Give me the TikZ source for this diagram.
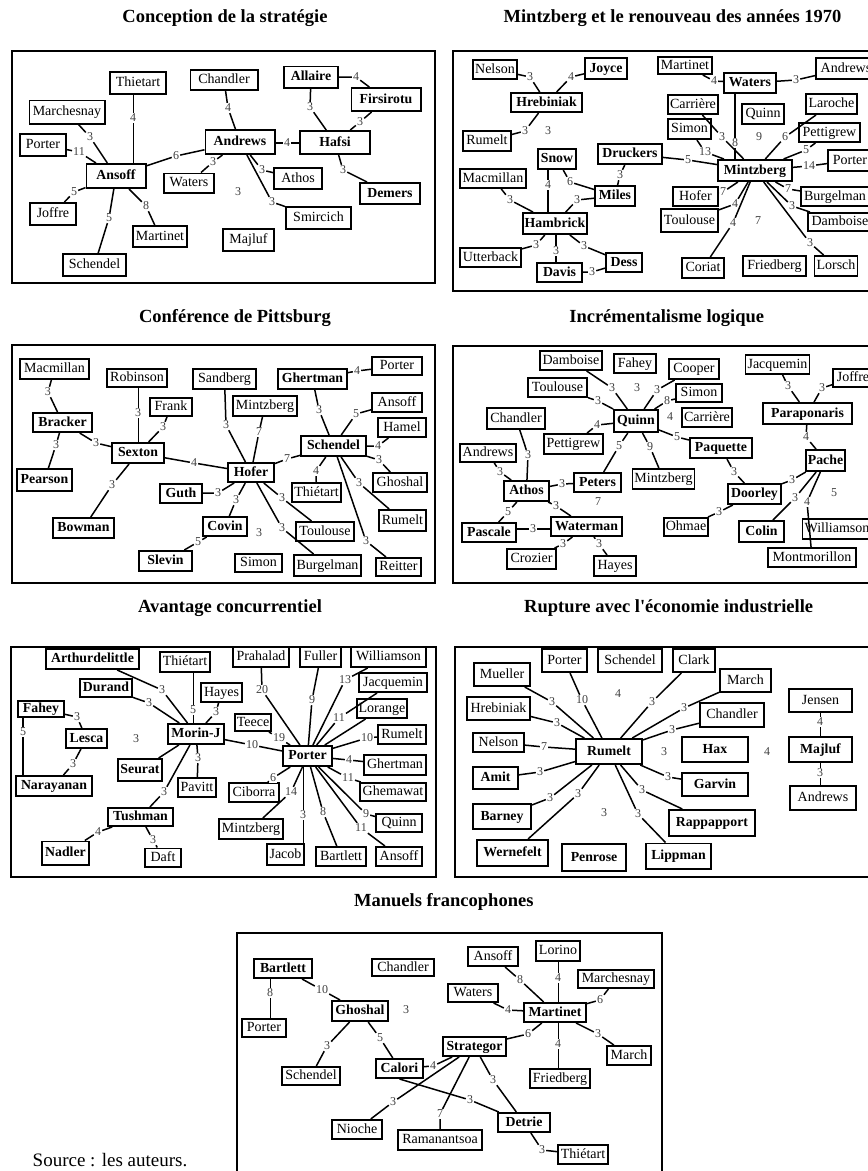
\documentclass[tikz,border=0pt]{standalone}
\usepackage{fontspec}
\setmainfont{Liberation Serif}
\begin{document}
\begin{tikzpicture}[x=1pt,y=-1pt,
  nm/.style={draw, line width=1.7pt, font=\fontsize{14}{16}\selectfont, inner xsep=2pt, inner ysep=0pt, text height=10pt, text depth=3pt},
  bn/.style={nm, font=\bfseries\fontsize{13.8}{16}\selectfont},
  wh/.style 2 args={minimum width=#1pt-1.7pt, minimum height=#2pt-1.7pt},
  lb/.style={font=\fontsize{12}{12}\selectfont, text=black!75, fill=white, inner sep=1pt},
  ed/.style={line width=1.5pt},
  ted/.style={line width=0.8pt},
  frm/.style={line width=1.8pt},
  ttl/.style={font=\bfseries\fontsize{18.5}{20}\selectfont}]
\useasboundingbox (0,0) rectangle (868,1171);

% ---------- titles ----------
\node[ttl] (t1) at (225,18) {Conception de la stratégie};
\node[ttl] (t2) at (672.5,18) {Mintzberg et le renouveau des années 1970};
\node[ttl] (t3) at (235,318) {Conférence de Pittsburg};
\node[ttl] (t4) at (666.7,318) {Incrémentalisme logique};
\node[ttl] (t5) at (230,608) {Avantage concurrentiel};
\node[ttl] (t6) at (668.7,608) {Rupture avec l\textquotesingle économie industrielle};
\node[ttl] (t7) at (443.8,902) {Manuels francophones};
\node[font=\fontsize{19}{20}\selectfont, inner sep=1pt] (src) at (110,1160) {Source : les auteurs.};

% ---------- frames ----------
\draw[frm] (12,51) rectangle (435,283);
\draw[frm] (453,51) rectangle (880,291);
\draw[frm] (12,345) rectangle (435,583);
\draw[frm] (453,346) rectangle (880,583);
\draw[frm] (11,647) rectangle (436,877);
\draw[frm] (455,647) rectangle (880,877);
\draw[frm] (237,933) rectangle (662,1185);

% ================= Panel 1 =================
\node[nm,wh={58}{24}] (Athi) at (138,83) {Thietart};
\node[nm,wh={69}{22}] (Acha) at (224,80) {Chandler};
\node[bn,wh={56}{23}] (Aall) at (311,77) {Allaire};
\node[bn,wh={71}{25}] (Afir) at (386,99.5) {Firsirotu};
\node[nm,wh={77}{25}] (Amar) at (67,112) {Marchesnay};
\node[nm,wh={48}{24}] (Apor) at (43,145) {Porter};
\node[bn,wh={71}{26}] (Aand) at (240,142) {Andrews};
\node[bn,wh={72}{25}] (Ahaf) at (335,142.5) {Hafsi};
\node[bn,wh={61}{26}] (Aans) at (116,176) {Ansoff};
\node[nm,wh={52}{21}] (Awat) at (189,183) {Waters};
\node[nm,wh={50}{23}] (Aath) at (298,178.5) {Athos};
\node[bn,wh={62}{23}] (Adem) at (390,193.5) {Demers};
\node[nm,wh={48}{24}] (Ajof) at (53,214) {Joffre};
\node[nm,wh={67}{24}] (Asmi) at (318.5,218) {Smircich};
\node[nm,wh={56}{23}] (Amart) at (160,236.5) {Martinet};
\node[nm,wh={53}{24}] (Amaj) at (248.5,240) {Majluf};
\node[nm,wh={65}{24}] (Asch) at (94.5,265) {Schendel};

\node[lb] (A1) at (133,118) {4};
\node[lb] (A2) at (90,137) {3};
\node[lb] (A3) at (79,152) {11};
\node[lb] (A4) at (176,156) {6};
\node[lb] (A5) at (228,108) {4};
\node[lb] (A6) at (287,143) {4};
\node[lb] (A7) at (310,107) {3};
\node[lb] (A8) at (360,122) {3};
\node[lb] (A9) at (356,77) {4};
\node[lb] (A10) at (213,162) {3};
\node[lb] (A11) at (262,170) {3};
\node[lb] (A12) at (272,202) {3};
\node[lb] (A13) at (343,170) {3};
\node[lb] (A14) at (74,192) {5};
\node[lb] (A15) at (109,218) {5};
\node[lb] (A16) at (146,206) {8};
\node[lb] (A17) at (238,192) {3};

\draw[ted] (A1 |- Athi.south) -- (A1) -- (A1 |- Aans.north);
\draw[ed] (Amar) -- (A2) -- (Aans);
\draw[ed] (Apor) -- (A3) -- (Aans);
\draw[ed] (Aans) -- (A4) -- (Aand);
\draw[ed] (Acha) -- (A5) -- (Aand);
\draw[ed] (Aand.east |- A6) -- (A6) -- (Ahaf.west |- A6);
\draw[ed] (Aall) -- (A7) -- (Ahaf);
\draw[ed] (Afir) -- (A8) -- (Ahaf);
\draw[ed] (Aall) -- (A9) -- (Afir);
\draw[ed] (Aand) -- (A10) -- (Awat);
\draw[ed] (Aand) -- (A11) -- (Aath);
\draw[ed] (Aand) -- (A12) -- (Asmi);
\draw[ed] (Ahaf) -- (A13) -- (Adem);
\draw[ed] (Aans) -- (A14) -- (Ajof);
\draw[ed] (Aans) -- (A15) -- (Asch);
\draw[ed] (Aans) -- (A16) -- (Amart);

% ================= Panel 2 =================
\node[nm,wh={46}{21}] (Bnel) at (495,69.5) {Nelson};
\node[bn,wh={44}{23}] (Bjoy) at (606,68.5) {Joyce};
\node[bn,wh={73}{21}] (Bhre) at (546.5,102.5) {Hrebiniak};
\node[nm,wh={50}{22}] (Brum) at (487,141) {Rumelt};
\node[bn,wh={40}{22}] (Bsno) at (557,159) {Snow};
\node[bn,wh={66}{22}] (Bdru) at (630,154) {Druckers};
\node[nm,wh={68}{21}] (Bmac) at (493,178.5) {Macmillan};
\node[bn,wh={42}{22}] (Bmil) at (615,196) {Miles};
\node[bn,wh={66}{23}] (Bham) at (555,223.5) {Hambrick};
\node[nm,wh={63}{21}] (Butt) at (490.5,257.5) {Utterback};
\node[bn,wh={47}{21}] (Bdav) at (559.5,272.5) {Davis};
\node[bn,wh={38}{21}] (Bdes) at (624,262.5) {Dess};
\node[nm,wh={56}{19}] (Bmart) at (685,65.5) {Martinet};
\node[bn,wh={54}{22}] (Bwat) at (750,83) {Waters};
\node[nm,wh={62}{23}] (Band) at (846,68.5) {Andrews};
\node[nm,wh={50}{21}] (Bcar) at (693,104.5) {Carrière};
\node[nm,wh={53}{22}] (Blar) at (831.5,104) {Laroche};
\node[nm,wh={44}{22}] (Bqui) at (763,114) {Quinn};
\node[nm,wh={45}{22}] (Bsim) at (689.5,129) {Simon};
\node[nm,wh={63}{21}] (Bpet) at (829.5,132.5) {Pettigrew};
\node[nm,wh={46}{23}] (Bpor) at (850,160.5) {Porter};
\node[bn,wh={76}{23}] (Bmin) at (755,170.5) {Mintzberg};
\node[nm,wh={47}{21}] (Bhof) at (695.5,196.5) {Hofer};
\node[nm,wh={70}{21}] (Bbur) at (835,196.5) {Burgelman};
\node[nm,wh={59}{25}] (Btou) at (689.5,220.5) {Toulouse};
\node[nm,wh={66}{20}] (Bdam) at (840,222) {Damboise};
\node[nm,wh={44}{22}] (Bcor) at (703,268) {Coriat};
\node[nm,wh={65}{22}] (Bfri) at (774.5,266) {Friedberg};
\node[nm,wh={44}{22}] (Blor) at (836,266) {Lorsch};

\node[lb] (B1) at (530,77) {3};
\node[lb] (B2) at (571,77) {4};
\node[lb] (B3) at (525,131) {3};
\node[lb] (B4) at (548,131) {3};
\node[lb] (B5) at (548,185) {4};
\node[lb] (B6) at (570,182) {6};
\node[lb] (B7) at (620,175) {3};
\node[lb] (B8) at (510,200) {3};
\node[lb] (B9) at (577,200) {3};
\node[lb] (B10) at (536,245) {3};
\node[lb] (B11) at (556,251) {3};
\node[lb] (B12) at (584,246) {3};
\node[lb] (B13) at (592,272) {3};
\node[lb] (B14) at (714,81) {4};
\node[lb] (B15) at (796,80) {3};
\node[lb] (B16) at (735,143) {8};
\node[lb] (B17) at (722,137) {3};
\node[lb] (B18) at (705,152) {13};
\node[lb] (B19) at (759,137) {9};
\node[lb] (B20) at (785,137) {6};
\node[lb] (B21) at (806,150) {5};
\node[lb] (B22) at (809,166) {14};
\node[lb] (B23) at (688,160) {5};
\node[lb] (B24) at (723,192) {7};
\node[lb] (B25) at (735,204) {4};
\node[lb] (B26) at (733,223) {4};
\node[lb] (B27) at (788,189) {7};
\node[lb] (B28) at (792,206) {3};
\node[lb] (B29) at (810,243) {3};
\node[lb] (B30) at (758,221) {7};

\draw[ed] (Bnel) -- (B1) -- (Bhre);
\draw[ed] (Bjoy) -- (B2) -- (Bhre);
\draw[ed] (Bhre) -- (B3) -- (Brum);
\draw[ed] (B5 |- Bsno.south) -- (B5) -- (B5 |- Bham.north);
\draw[ed] (Bsno) -- (B6) -- (Bmil);
\draw[ed] (Bdru) -- (B7) -- (Bmil);
\draw[ed] (Bmac) -- (B8) -- (Bham);
\draw[ed] (Bmil) -- (B9) -- (Bham);
\draw[ed] (Bham) -- (B10) -- (Butt);
\draw[ed] (B11 |- Bham.south) -- (B11) -- (B11 |- Bdav.north);
\draw[ed] (Bham) -- (B12) -- (Bdes);
\draw[ed] (Bdav) -- (B13) -- (Bdes);
\draw[ed] (Bmart) -- (B14) -- (Bwat);
\draw[ed] (Bwat) -- (B15) -- (Band);
\draw[ed] (B16 |- Bwat.south) -- (B16) -- (B16 |- Bmin.north);
\draw[ed] (Bcar) -- (B17) -- (Bmin);
\draw[ed] (Bsim) -- (B18) -- (Bmin);
\draw[ed] (Blar) -- (B20) -- (Bmin);
\draw[ed] (Bpet) -- (B21) -- (Bmin);
\draw[ed] (Bpor) -- (B22) -- (Bmin);
\draw[ed] (Bdru) -- (B23) -- (Bmin);
\draw[ed] (Bhof) -- (B24) -- (Bmin);
\draw[ed] (Btou) -- (B25) -- (Bmin);
\draw[ed] (Bcor) -- (B26) -- (Bmin);
\draw[ed] (Bbur) -- (B27) -- (Bmin);
\draw[ed] (Bdam) -- (B28) -- (Bmin);
\draw[ed] (Blor) -- (B29) -- (Bmin);

% ================= Panel 3 =================
\node[nm,wh={71}{22}] (Cmac) at (54.5,369) {Macmillan};
\node[nm,wh={62}{20}] (Crob) at (137,378) {Robinson};
\node[nm,wh={65}{22}] (Csan) at (224.5,379) {Sandberg};
\node[bn,wh={71}{22}] (Cghe) at (312.5,379) {Ghertman};
\node[nm,wh={52}{20}] (Cpor) at (397,366) {Porter};
\node[nm,wh={44}{20}] (Cfra) at (171,407) {Frank};
\node[nm,wh={66}{22}] (Cmin) at (265,406) {Mintzberg};
\node[nm,wh={52}{21}] (Cans) at (397,402.5) {Ansoff};
\node[bn,wh={61}{21}] (Cbra) at (62.5,422.5) {Bracker};
\node[nm,wh={50}{21}] (Cham) at (402,427.5) {Hamel};
\node[bn,wh={67}{22}] (Csch) at (333.5,446) {Schendel};
\node[bn,wh={54}{22}] (Csex) at (138,453) {Sexton};
\node[bn,wh={48}{21}] (Chof) at (251,472.5) {Hofer};
\node[bn,wh={57}{24}] (Cpea) at (44.5,480) {Pearson};
\node[nm,wh={47}{21}] (Cthi) at (316.5,492.5) {Thiétart};
\node[nm,wh={56}{21}] (Cgho) at (400,482.5) {Ghoshal};
\node[bn,wh={44}{21}] (Cgut) at (181,493.5) {Guth};
\node[nm,wh={49}{23}] (Crum) at (402.5,520.5) {Rumelt};
\node[bn,wh={63}{22}] (Cbow) at (83.5,528) {Bowman};
\node[bn,wh={46}{21}] (Ccov) at (225,526.5) {Covin};
\node[nm,wh={60}{21}] (Ctou) at (325,531.5) {Toulouse};
\node[bn,wh={55}{22}] (Csle) at (165.5,561) {Slevin};
\node[nm,wh={49}{20}] (Csim) at (258.5,563) {Simon};
\node[nm,wh={69}{23}] (Cbur) at (327.5,565.5) {Burgelman};
\node[nm,wh={47}{20}] (Crei) at (398.5,567) {Reitter};

\node[lb] (C1) at (48,392) {3};
\node[lb] (C2) at (56,445) {3};
\node[lb] (C3) at (96,443) {3};
\node[lb] (C4) at (138,413) {3};
\node[lb] (C5) at (163,427) {3};
\node[lb] (C6) at (112,485) {3};
\node[lb] (C7) at (194,463) {4};
\node[lb] (C8) at (226,425) {3};
\node[lb] (C9) at (259,432) {7};
\node[lb] (C10) at (287,459) {7};
\node[lb] (C11) at (319,410) {3};
\node[lb] (C12) at (357,371) {4};
\node[lb] (C13) at (356,414) {5};
\node[lb] (C14) at (378,446) {4};
\node[lb] (C15) at (379,460) {3};
\node[lb] (C16) at (316,471) {4};
\node[lb] (C17) at (359,483) {3};
\node[lb] (C18) at (366,541) {3};
\node[lb] (C19) at (218,493) {3};
\node[lb] (C20) at (236,500) {3};
\node[lb] (C21) at (282,498) {3};
\node[lb] (C22) at (282,528) {3};
\node[lb] (C23) at (198,542) {5};
\node[lb] (C24) at (259,533) {3};

\draw[ed] (Cmac) -- (C1) -- (Cbra);
\draw[ed] (Cbra) -- (C2) -- (Cpea);
\draw[ed] (Cbra) -- (C3) -- (Csex);
\draw[ted] (C4 |- Crob.south) -- (C4) -- (C4 |- Csex.north);
\draw[ed] (Cfra) -- (C5) -- (Csex);
\draw[ed] (Csex) -- (C6) -- (Cbow);
\draw[ed] (Csex) -- (C7) -- (Chof);
\draw[ed] (Csan) -- (C8) -- (Chof);
\draw[ed] (Cmin) -- (C9) -- (Chof);
\draw[ed] (Chof) -- (C10) -- (Csch);
\draw[ed] (Cghe) -- (C11) -- (Csch);
\draw[ed] (Cghe) -- (C12) -- (Cpor);
\draw[ed] (Cans) -- (C13) -- (Csch);
\draw[ed] (Cham) -- (C14) -- (Csch);
\draw[ed] (Csch) -- (C15) -- (Cgho);
\draw[ed] (Csch) -- (C16) -- (Cthi);
\draw[ed] (Csch) -- (C17) -- (Crum);
\draw[ed] (Csch) -- (C18) -- (Crei);
\draw[ed] (Chof) -- (C19) -- (Cgut);
\draw[ed] (Chof) -- (C20) -- (Ccov);
\draw[ed] (Chof) -- (C21) -- (Ctou);
\draw[ed] (Chof) -- (C22) -- (Cbur);
\draw[ed] (Ccov) -- (C23) -- (Csle);

% ================= Panel 4 =================
\node[nm,wh={64}{21}] (Ddam) at (571,360.5) {Damboise};
\node[nm,wh={44}{21}] (Dfah) at (635,363.5) {Fahey};
\node[nm,wh={52}{22}] (Dcoo) at (694,369) {Cooper};
\node[nm,wh={65}{21}] (Djac) at (777.5,364.5) {Jacquemin};
\node[nm,wh={42}{20}] (Djof) at (853,378) {Joffre};
\node[nm,wh={61}{21}] (Dtou) at (557.5,387.5) {Toulouse};
\node[nm,wh={48}{20}] (Dsim) at (699,393) {Simon};
\node[nm,wh={60}{23}] (Dcha) at (516,418.5) {Chandler};
\node[bn,wh={46}{24}] (Dqui) at (636,421) {Quinn};
\node[nm,wh={52}{21}] (Dcar) at (707,417.5) {Carrière};
\node[bn,wh={91}{23}] (Dpar) at (807.5,413.5) {Paraponaris};
\node[nm,wh={61}{22}] (Dpet) at (573.5,444) {Pettigrew};
\node[nm,wh={58}{20}] (Dand) at (488,453) {Andrews};
\node[bn,wh={64}{22}] (Dpaq) at (721,448) {Paquette};
\node[bn,wh={39}{23}] (Dpac) at (825.5,460.5) {Pache};
\node[nm,wh={63}{22}] (Dmin) at (663.5,479) {Mintzberg};
\node[bn,wh={49}{21}] (Dpete) at (597.5,482.5) {Peters};
\node[bn,wh={47}{22}] (Dath) at (526.5,491) {Athos};
\node[bn,wh={55}{22}] (Ddoo) at (754.5,494) {Doorley};
\node[bn,wh={56}{21}] (Dpas) at (489,532.5) {Pascale};
\node[bn,wh={73}{21}] (Dwtm) at (586.5,526.5) {Waterman};
\node[nm,wh={46}{20}] (Dohm) at (686,527) {Ohmae};
\node[bn,wh={47}{23}] (Dcol) at (761.5,531.5) {Colin};
\node[nm,wh={70}{22}] (Dwil) at (837,529) {Williamson};
\node[nm,wh={51}{22}] (Dcro) at (531.5,559) {Crozier};
\node[nm,wh={44}{22}] (Dhay) at (615,566) {Hayes};
\node[nm,wh={90}{21}] (Dmon) at (812,557.5) {Montmorillon};

\node[lb] (D1) at (612,388) {3};
\node[lb] (D2) at (598,401) {3};
\node[lb] (D3) at (637,388) {3};
\node[lb] (D4) at (657,390) {3};
\node[lb] (D5) at (667,401) {8};
\node[lb] (D6) at (670,417) {4};
\node[lb] (D7) at (597,425) {4};
\node[lb] (D8) at (677,437) {5};
\node[lb] (D9) at (619,446) {5};
\node[lb] (D10) at (650,447) {9};
\node[lb] (D11) at (528,455) {3};
\node[lb] (D12) at (500,472) {3};
\node[lb] (D13) at (562,484) {3};
\node[lb] (D14) at (598,502) {7};
\node[lb] (D15) at (508,512) {5};
\node[lb] (D16) at (556,506) {3};
\node[lb] (D17) at (533,529) {3};
\node[lb] (D18) at (563,544) {3};
\node[lb] (D19) at (599,544) {3};
\node[lb] (D20) at (734,472) {3};
\node[lb] (D21) at (719,512) {3};
\node[lb] (D22) at (788,386) {3};
\node[lb] (D23) at (822,388) {3};
\node[lb] (D24) at (806,437) {4};
\node[lb] (D25) at (792,480) {3};
\node[lb] (D26) at (795,498) {3};
\node[lb] (D27) at (807,502) {4};
\node[lb] (D28) at (834,493) {5};

\draw[ed] (Ddam) -- (D1) -- (Dqui);
\draw[ed] (Dtou) -- (D2) -- (Dqui);
\draw[ed] (Dcoo) -- (D4) -- (Dqui);
\draw[ed] (Dsim) -- (D5) -- (Dqui);
\draw[ed] (Dpet) -- (D7) -- (Dqui);
\draw[ed] (Dqui) -- (D8) -- (Dpaq);
\draw[ed] (Dqui) -- (D9) -- (Dpete);
\draw[ed] (Dqui) -- (D10) -- (Dmin);
\draw[ed] (Dcha) -- (D11) -- (Dath);
\draw[ed] (Dand) -- (D12) -- (Dath);
\draw[ed] (Dath) -- (D13) -- (Dpete);
\draw[ed] (Dath) -- (D15) -- (Dpas);
\draw[ed] (Dath) -- (D16) -- (Dwtm);
\draw[ed] (Dpas.east |- D17) -- (D17) -- (Dwtm.west |- D17);
\draw[ed] (Dwtm) -- (D18) -- (Dcro);
\draw[ed] (Dwtm) -- (D19) -- (Dhay);
\draw[ed] (Dpaq) -- (D20) -- (Ddoo);
\draw[ed] (Ddoo) -- (D21) -- (Dohm);
\draw[ed] (Djac) -- (D22) -- (Dpar);
\draw[ed] (Djof) -- (D23) -- (Dpar);
\draw[ed] (Dpar) -- (D24) -- (Dpac);
\draw[ed] (Dpac) -- (D25) -- (Ddoo);
\draw[ed] (Dpac) -- (D26) -- (Dcol);
\draw[ed] (Dpac) -- (D27) -- (Dmon);

% ================= Panel 5 =================
\node[bn,wh={95}{22}] (Eart) at (92.5,659) {Arthurdelittle};
\node[nm,wh={52}{22}] (Ethi) at (185,662) {Thiétart};
\node[nm,wh={58}{22}] (Epra) at (261,657) {Prahalad};
\node[nm,wh={43}{22}] (Eful) at (320.5,657) {Fuller};
\node[nm,wh={77}{22}] (Ewil) at (388.5,657) {Williamson};
\node[bn,wh={54}{20}] (Edur) at (106,688) {Durand};
\node[nm,wh={43}{21}] (Ehay) at (221.5,692.5) {Hayes};
\node[nm,wh={70}{21}] (Ejac) at (393,682.5) {Jacquemin};
\node[bn,wh={48}{18}] (Efah) at (41,709) {Fahey};
\node[nm,wh={38}{19}] (Etee) at (253,722.5) {Teece};
\node[nm,wh={52}{21}] (Elor) at (382,708.5) {Lorange};
\node[bn,wh={43}{21}] (Eles) at (86.5,738.5) {Lesca};
\node[bn,wh={58}{22}] (Emor) at (196,734) {Morin-J};
\node[nm,wh={50}{21}] (Erum) at (402,734.5) {Rumelt};
\node[bn,wh={51}{22}] (Epor) at (307.5,756) {Porter};
\node[nm,wh={64}{22}] (Eghe) at (395,765) {Ghertman};
\node[bn,wh={46}{24}] (Eseu) at (140,770) {Seurat};
\node[bn,wh={78}{22}] (Enar) at (54,786) {Narayanan};
\node[nm,wh={40}{21}] (Epav) at (197,787.5) {Pavitt};
\node[nm,wh={52}{21}] (Ecib) at (254,792.5) {Ciborra};
\node[nm,wh={68}{20}] (Eghm) at (393,792) {Ghemawat};
\node[bn,wh={67}{20}] (Etus) at (140.5,817) {Tushman};
\node[nm,wh={66}{22}] (Emin) at (251,829) {Mintzberg};
\node[nm,wh={48}{20}] (Equi) at (399,823) {Quinn};
\node[bn,wh={49}{25}] (Enad) at (65.5,853) {Nadler};
\node[nm,wh={38}{20}] (Edaf) at (163,857.5) {Daft};
\node[nm,wh={39}{23}] (Ejab) at (285.5,854.5) {Jacob};
\node[nm,wh={52}{21}] (Ebar) at (341,856.5) {Bartlett};
\node[nm,wh={48}{21}] (Eans) at (399,856.5) {Ansoff};

\node[lb] (E1) at (162,690) {3};
\node[lb] (E2) at (149,703) {3};
\node[lb] (E3) at (193,710) {5};
\node[lb] (E4) at (216,712) {3};
\node[lb] (E5) at (77,717) {3};
\node[lb] (E6) at (23,732) {5};
\node[lb] (E7) at (73,764) {3};
\node[lb] (E8) at (136,739) {3};
\node[lb] (E9) at (252,745) {10};
\node[lb] (E10) at (198,758) {3};
\node[lb] (E11) at (164,792) {3};
\node[lb] (E12) at (98,832) {4};
\node[lb] (E13) at (153,840) {3};
\node[lb] (E14) at (262,690) {20};
\node[lb] (E15) at (279,738) {19};
\node[lb] (E16) at (312,700) {9};
\node[lb] (E17) at (345,680) {13};
\node[lb] (E18) at (339,718) {11};
\node[lb] (E19) at (367,738) {10};
\node[lb] (E20) at (349,760) {4};
\node[lb] (E21) at (348,778) {11};
\node[lb] (E22) at (273,778) {6};
\node[lb] (E23) at (291,792) {14};
\node[lb] (E24) at (303,815) {3};
\node[lb] (E25) at (323,812) {8};
\node[lb] (E26) at (366,814) {9};
\node[lb] (E27) at (361,828) {11};

\draw[ed] (Eart) -- (E1) -- (Emor);
\draw[ed] (Edur) -- (E2) -- (Emor);
\draw[ted] (E3 |- Ethi.south) -- (E3) -- (E3 |- Emor.north);
\draw[ed] (Ehay) -- (E4) -- (Emor);
\draw[ed] (Efah) -- (E5) -- (Eles);
\draw[ed] (E6 |- Efah.south) -- (E6) -- (E6 |- Enar.north);
\draw[ed] (Eles) -- (E7) -- (Enar);
\draw[ed] (Emor) -- (E9) -- (Epor);
\draw[ed] (Emor) -- (Eseu);
\draw[ed] (Emor) -- (E10) -- (Epav);
\draw[ed] (Emor) -- (E11) -- (Etus);
\draw[ed] (Etus) -- (E12) -- (Enad);
\draw[ed] (Etus) -- (E13) -- (Edaf);
\draw[ed] (Epra) -- (E14) -- (Epor);
\draw[ed] (Etee) -- (E15) -- (Epor);
\draw[ed] (Eful) -- (E16) -- (Epor);
\draw[ed] (Ewil) -- (E17) -- (Epor);
\draw[ed] (Ejac) -- (E18) -- (Epor);
\draw[ed] (Elor) -- (Epor);
\draw[ed] (Erum) -- (E19) -- (Epor);
\draw[ed] (Epor) -- (E20) -- (Eghe);
\draw[ed] (Epor) -- (E21) -- (Eghm);
\draw[ed] (Epor) -- (E22) -- (Ecib);
\draw[ed] (Epor) -- (E23) -- (Emin);
\draw[ted] (E24 |- Epor.south) -- (E24) -- (E24 |- Ejab.north);
\draw[ed] (Epor) -- (E25) -- (Ebar);
\draw[ed] (Epor) -- (E26) -- (Equi);
\draw[ed] (Epor) -- (E27) -- (Eans);

% ================= Panel 6 =================
\node[nm,wh={47}{25}] (Fpor) at (564.5,660.5) {Porter};
\node[nm,wh={66}{25}] (Fsch) at (630,660.5) {Schendel};
\node[nm,wh={44}{25}] (Fcla) at (694,660.5) {Clark};
\node[nm,wh={58}{25}] (Fmue) at (502,674.5) {Mueller};
\node[nm,wh={53}{25}] (Fmar) at (745.5,680.5) {March};
\node[nm,wh={65}{25}] (Fhre) at (498.5,708.5) {Hrebiniak};
\node[nm,wh={65}{25}] (Fjen) at (820.5,700.5) {Jensen};
\node[nm,wh={66}{26}] (Fcha) at (732,715) {Chandler};
\node[nm,wh={53}{21}] (Fnel) at (498.5,742.5) {Nelson};
\node[bn,wh={68}{27}] (Frum) at (609,751.5) {Rumelt};
\node[bn,wh={68}{27}] (Fhax) at (715,749.5) {Hax};
\node[bn,wh={65}{27}] (Fmaj) at (820.5,749.5) {Majluf};
\node[bn,wh={47}{24}] (Fami) at (495.5,778) {Amit};
\node[bn,wh={68}{25}] (Fgar) at (715,784.5) {Garvin};
\node[nm,wh={68}{26}] (Fand) at (823,798) {Andrews};
\node[bn,wh={60}{27}] (Fbar) at (502,816.5) {Barney};
\node[bn,wh={88}{28}] (Frap) at (712,823) {Rappapport};
\node[bn,wh={73}{28}] (Fwer) at (512.5,853) {Wernefelt};
\node[bn,wh={66}{29}] (Fpen) at (594,857.5) {Penrose};
\node[bn,wh={67}{27}] (Flip) at (678.5,856) {Lippman};

\node[lb] (F1) at (552,702) {3};
\node[lb] (F2) at (582,700) {10};
\node[lb] (F3) at (618,694) {4};
\node[lb] (F4) at (652,702) {3};
\node[lb] (F5) at (684,708) {3};
\node[lb] (F6) at (557,723) {3};
\node[lb] (F7) at (672,730) {3};
\node[lb] (F8) at (544,747) {7};
\node[lb] (F9) at (664,752) {3};
\node[lb] (F10) at (767,752) {4};
\node[lb] (F11) at (820,722) {4};
\node[lb] (F12) at (820,773) {3};
\node[lb] (F13) at (540,772) {3};
\node[lb] (F14) at (668,777) {3};
\node[lb] (F15) at (550,798) {3};
\node[lb] (F16) at (578,794) {3};
\node[lb] (F17) at (642,790) {3};
\node[lb] (F18) at (638,814) {3};
\node[lb] (F19) at (604,813) {3};

\draw[ed] (Fmue) -- (F1) -- (Frum);
\draw[ed] (Fpor) -- (F2) -- (Frum);
\draw[ed] (Fcla) -- (F4) -- (Frum);
\draw[ed] (Fmar) -- (F5) -- (Frum);
\draw[ed] (Fhre) -- (F6) -- (Frum);
\draw[ed] (Fcha) -- (F7) -- (Frum);
\draw[ed] (Fnel) -- (F8) -- (Frum);
\draw[ted] (F11 |- Fjen.south) -- (F11) -- (F11 |- Fmaj.north);
\draw[ted] (F12 |- Fmaj.south) -- (F12) -- (F12 |- Fand.north);
\draw[ed] (Frum) -- (F13) -- (Fami);
\draw[ed] (Frum) -- (F14) -- (Fgar);
\draw[ed] (Frum) -- (F15) -- (Fbar);
\draw[ed] (Frum) -- (F16) -- (Fwer);
\draw[ed] (Frum) -- (F17) -- (Frap);
\draw[ed] (Frum) -- (F18) -- (Flip);

% ================= Panel 7 =================
\node[bn,wh={60}{21}] (Gbar) at (283,968.5) {Bartlett};
\node[nm,wh={64}{19}] (Gcha) at (403,967.5) {Chandler};
\node[nm,wh={52}{21}] (Gans) at (493,956.5) {Ansoff};
\node[nm,wh={46}{22}] (Glor) at (558,951) {Lorino};
\node[nm,wh={78}{20}] (Gmch) at (616,979) {Marchesnay};
\node[nm,wh={52}{20}] (Gwat) at (473,993) {Waters};
\node[bn,wh={58}{22}] (Ggho) at (360,1011) {Ghoshal};
\node[nm,wh={46}{20}] (Gpor) at (264,1028) {Porter};
\node[bn,wh={64}{21}] (Gmrt) at (555,1012.5) {Martinet};
\node[bn,wh={65}{21}] (Gstr) at (474.5,1046.5) {Strategor};
\node[nm,wh={46}{21}] (Gmar) at (629,1055.5) {March};
\node[bn,wh={49}{21}] (Gcal) at (399.5,1068.5) {Calori};
\node[nm,wh={60}{20}] (Gsch) at (311,1076) {Schendel};
\node[nm,wh={62}{21}] (Gfri) at (560,1078.5) {Friedberg};
\node[bn,wh={54}{21}] (Gdet) at (524,1122.5) {Detrie};
\node[nm,wh={52}{21}] (Gnio) at (357,1129.5) {Nioche};
\node[nm,wh={86}{22}] (Gram) at (440,1140) {Ramanantsoa};
\node[nm,wh={52}{21}] (Gthi) at (583,1154.5) {Thiétart};

\node[lb] (G1) at (270,993) {8};
\node[lb] (G2) at (322,990) {10};
\node[lb] (G3) at (406,1010) {3};
\node[lb] (G4) at (327,1046) {3};
\node[lb] (G5) at (380,1038) {5};
\node[lb] (G6) at (520,980) {8};
\node[lb] (G7) at (558,978) {4};
\node[lb] (G8) at (600,1000) {6};
\node[lb] (G9) at (508,1010) {4};
\node[lb] (G10) at (528,1034) {6};
\node[lb] (G11) at (558,1044) {4};
\node[lb] (G12) at (598,1034) {3};
\node[lb] (G13) at (433,1066) {4};
\node[lb] (G14) at (493,1080) {3};
\node[lb] (G15) at (393,1102) {3};
\node[lb] (G16) at (440,1114) {7};
\node[lb] (G17) at (470,1100) {3};
\node[lb] (G18) at (542,1150) {3};

\draw[ted] (G1 |- Gbar.south) -- (G1) -- (G1 |- Gpor.north);
\draw[ed] (Gbar) -- (G2) -- (Ggho);
\draw[ed] (Ggho) -- (G4) -- (Gsch);
\draw[ed] (Ggho) -- (G5) -- (Gcal);
\draw[ed] (Gans) -- (G6) -- (Gmrt);
\draw[ted] (G7 |- Glor.south) -- (G7) -- (G7 |- Gmrt.north);
\draw[ed] (Gmch) -- (G8) -- (Gmrt);
\draw[ed] (Gwat) -- (G9) -- (Gmrt);
\draw[ed] (Gmrt) -- (G10) -- (Gstr);
\draw[ted] (G11 |- Gmrt.south) -- (G11) -- (G11 |- Gfri.north);
\draw[ed] (Gmrt) -- (G12) -- (Gmar);
\draw[ed] (Gstr) -- (G13) -- (Gcal);
\draw[ed] (Gstr) -- (G14) -- (Gdet);
\draw[ed] (Gstr) -- (G15) -- (Gnio);
\draw[ed] (Gstr) -- (G16) -- (Gram);
\draw[ed] (Gcal.south) -- (G17) -- (Gdet);
\draw[ed] (Gdet) -- (G18) -- (Gthi);
\end{tikzpicture}
\end{document}
